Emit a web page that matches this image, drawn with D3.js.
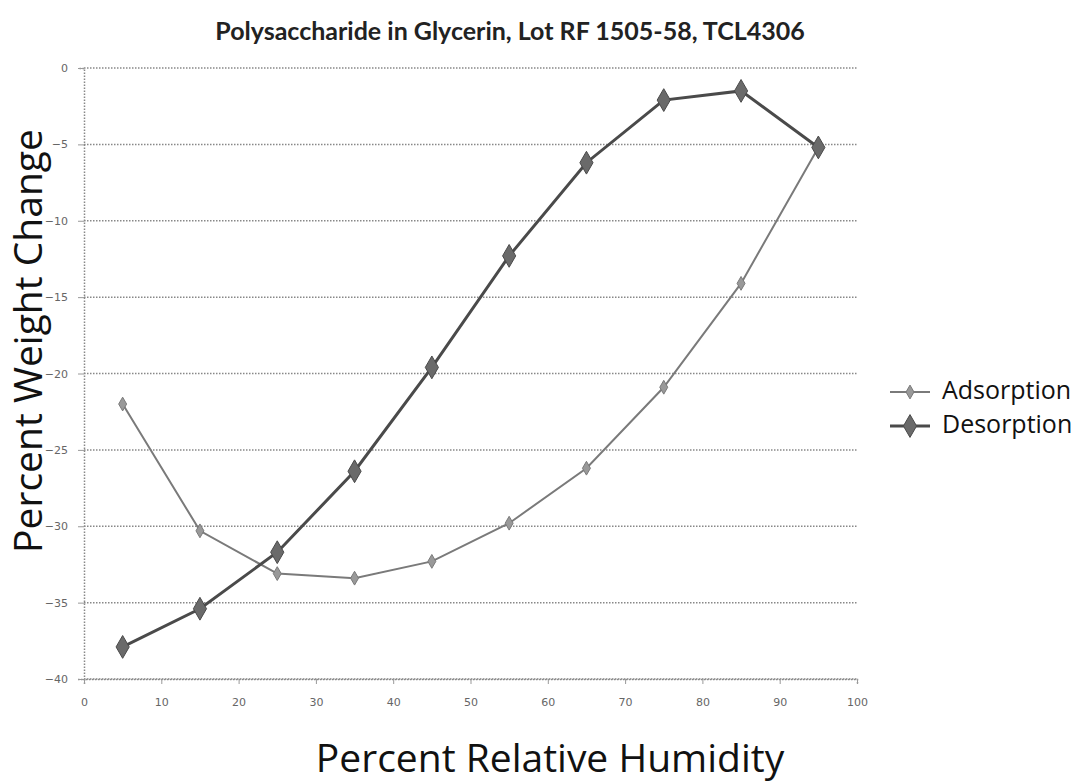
<!DOCTYPE html>
<html>
<head>
<meta charset="utf-8">
<script src="https://cdn.jsdelivr.net/npm/d3@7"></script>
<style>
  body { margin: 0; background: #fff; }
  svg { display: block; }
</style>
</head>
<body>
<div id="chart"></div>
<script>
const humidity = [5, 15, 25, 35, 45, 55, 65, 75, 85, 95];
const adsorption = [-22.0, -30.3, -33.1, -33.4, -32.3, -29.8, -26.2, -20.9, -14.1, -5.2];
const desorption = [-37.9, -35.4, -31.7, -26.4, -19.6, -12.3, -6.2, -2.1, -1.5, -5.2];
const xTicks = [0, 10, 20, 30, 40, 50, 60, 70, 80, 90, 100];
const yTicks = [0, -5, -10, -15, -20, -25, -30, -35, -40];
const seriesNames = ["Adsorption", "Desorption"];

const W = 1081, H = 783;
const margin = {top: 68, right: 224, bottom: 104, left: 84};
const width = W - margin.left - margin.right,
    height = H - margin.top - margin.bottom;

const x = d3.scaleLinear().domain([0, 100]).range([0, width]);
const y = d3.scaleLinear().domain([-40, 0]).range([height, 0]);

const svg = d3.select("#chart").append("svg")
    .attr("width", W)
    .attr("height", H);

const g = svg.append("g")
    .attr("transform", "translate(" + margin.left + "," + margin.top + ")");

// horizontal gridlines
g.selectAll(".grid")
  .data(yTicks)
  .enter().append("line")
    .attr("class", "grid")
    .attr("x1", 0).attr("x2", width)
    .attr("y1", d => y(d)).attr("y2", d => y(d))
    .attr("stroke", "#888")
    .attr("stroke-width", 1.5)
    .attr("stroke-dasharray", "1.5,1.5");

// axes
const yAxis = g.append("g")
    .call(d3.axisLeft(y).tickValues(yTicks).tickSize(6).tickPadding(10));
const xAxis = g.append("g")
    .attr("transform", "translate(0," + height + ")")
    .call(d3.axisBottom(x).tickValues(xTicks).tickSize(5).tickPadding(14));

[xAxis, yAxis].forEach(a => {
  a.select(".domain").attr("stroke", "#888").attr("stroke-width", 1.5).attr("stroke-dasharray", "1.5,1.5");
  a.selectAll(".tick line").attr("stroke", "#999");
  a.selectAll(".tick text")
    .attr("fill", "#666")
    .style("font-family", "'DejaVu Sans', sans-serif")
    .style("font-size", "11px");
});

const line = d3.line().x(d => x(d[0])).y(d => y(d[1]));

const styles = [
  {stroke: "#7a7a7a", width: 2, sym: d3.symbolDiamond, size: 55, fill: "#999"},
  {stroke: "#4a4a4a", width: 3, sym: d3.symbolDiamond, size: 150, fill: "#6a6a6a"}
];
const series = [adsorption, desorption];

series.forEach((vals, i) => {
  const pts = humidity.map((h, j) => [h, vals[j]]);
  const st = styles[i];
  g.append("path")
    .datum(pts)
    .attr("fill", "none")
    .attr("stroke", st.stroke)
    .attr("stroke-width", st.width)
    .attr("d", line);
  g.selectAll(".m" + i)
    .data(pts)
    .enter().append("path")
      .attr("class", "m" + i)
      .attr("transform", d => "translate(" + x(d[0]) + "," + y(d[1]) + ")")
      .attr("d", d3.symbol().type(st.sym).size(st.size))
      .attr("fill", st.fill)
      .attr("stroke", st.stroke)
      .attr("stroke-width", 1);
});

// title
svg.append("text")
    .attr("x", 510).attr("y", 40)
    .attr("text-anchor", "middle")
    .style("font-family", "Lato, sans-serif")
    .style("font-weight", "bold")
    .style("font-size", "25px")
    .attr("fill", "#222")
    .text("Polysaccharide in Glycerin, Lot RF 1505-58, TCL4306");

// axis titles
svg.append("text")
    .attr("x", 550).attr("y", 772)
    .attr("text-anchor", "middle")
    .style("font-family", "'Open Sans', sans-serif")
    .style("font-size", "39px")
    .attr("fill", "#111")
    .text("Percent Relative Humidity");

svg.append("text")
    .attr("transform", "translate(42,341) rotate(-90)")
    .attr("text-anchor", "middle")
    .style("font-family", "'Open Sans', sans-serif")
    .style("font-size", "39px")
    .attr("fill", "#111")
    .text("Percent Weight Change");

// legend
const legend = svg.append("g").attr("transform", "translate(890,392)");
seriesNames.forEach((name, i) => {
  const st = styles[i];
  const row = legend.append("g").attr("transform", "translate(0," + (i * 34) + ")");
  row.append("line")
    .attr("x1", 0).attr("x2", 40).attr("y1", 0).attr("y2", 0)
    .attr("stroke", st.stroke).attr("stroke-width", st.width);
  row.append("path")
    .attr("transform", "translate(20,0)")
    .attr("d", d3.symbol().type(st.sym).size(st.size))
    .attr("fill", st.fill).attr("stroke", st.stroke);
  row.append("text")
    .attr("x", 52).attr("y", 7)
    .style("font-family", "'Open Sans', sans-serif")
    .style("font-size", "25px")
    .attr("fill", "#111")
    .text(name);
});
</script>
</body>
</html>
